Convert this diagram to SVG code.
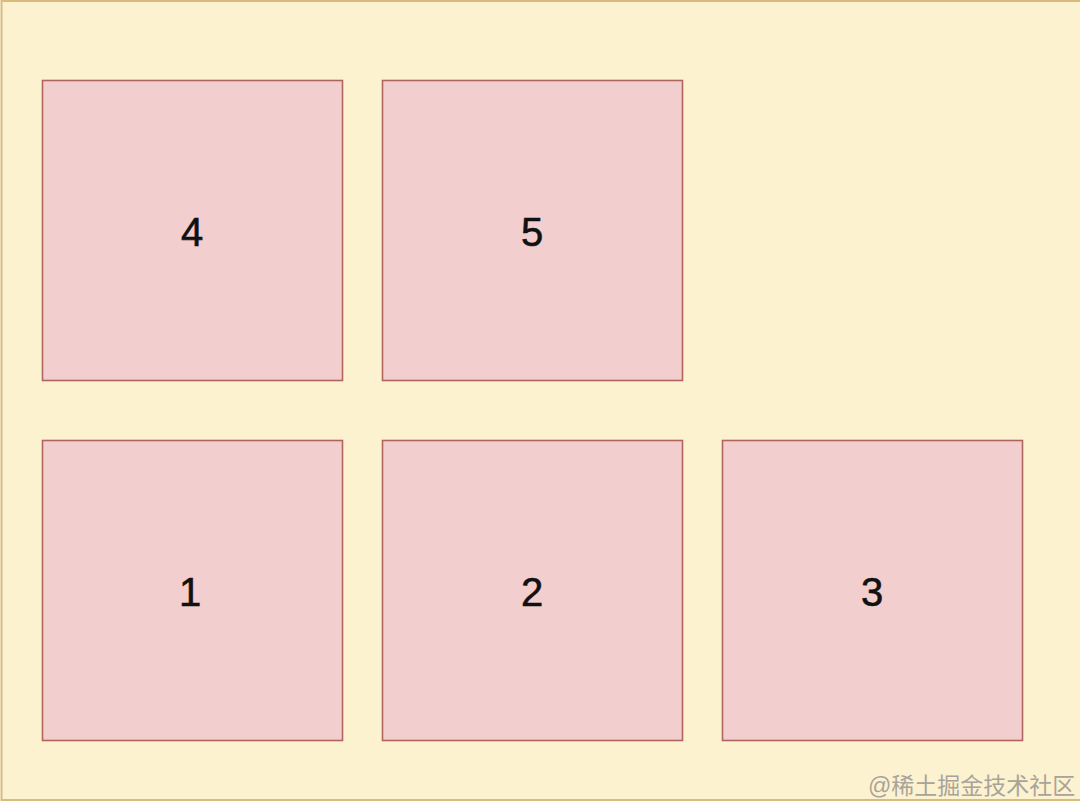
<svg xmlns="http://www.w3.org/2000/svg" width="1080" height="806" viewBox="0 0 1080 806">
<style>
.box{fill:#f2cfce;stroke:#b0645e;stroke-width:1.6}
.lbl{font-family:"Helvetica","Liberation Sans",Arial,sans-serif;font-size:40px;fill:#111;stroke:#111;stroke-width:0.6;text-anchor:middle;dominant-baseline:central}
.wm{font-family:"Liberation Sans","Noto Sans CJK SC",sans-serif;font-size:23px;fill:#a8a49a}
</style>
<rect x="0" y="0" width="1080" height="806" fill="#ffffff"/>
<rect id="container" x="1.5" y="1" width="1085" height="799" fill="#fdf2cf" stroke="#d9bc7a" stroke-width="2"/>
<g id="connectors"></g>
<g id="node4"><rect class="box" x="42.5" y="80.5" width="300" height="300"/><text class="lbl" x="192" y="232">4</text></g>
<g id="node5"><rect class="box" x="382.5" y="80.5" width="300" height="300"/><text class="lbl" x="532" y="232">5</text></g>
<g id="node1"><rect class="box" x="42.5" y="440.5" width="300" height="300"/><text class="lbl" x="190" y="592">1</text></g>
<g id="node2"><rect class="box" x="382.5" y="440.5" width="300" height="300"/><text class="lbl" x="532" y="592">2</text></g>
<g id="node3"><rect class="box" x="722.5" y="440.5" width="300" height="300"/><text class="lbl" x="872" y="592">3</text></g>
<text class="wm" x="868" y="794">@稀土掘金技术社区</text>
</svg>
